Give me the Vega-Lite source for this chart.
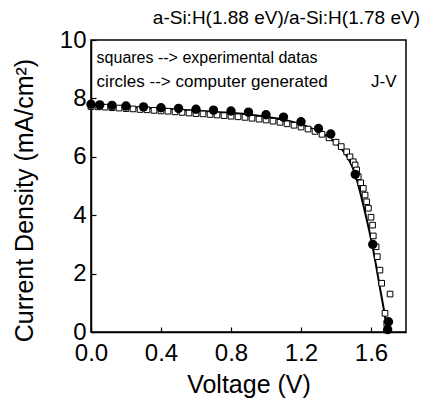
{
  "$schema": "https://vega.github.io/schema/vega-lite/v6.json",
  "autosize": {"type": "none"},
  "padding": {"left": 91, "top": 40, "right": 29, "bottom": 68},
  "width": 315,
  "height": 292,
  "background": "white",
  "config": {
    "font": "Liberation Sans",
    "view": {"stroke": "black", "strokeWidth": 1.5},
    "axis": {"grid": false, "domainColor": "black", "domainWidth": 1.5, "tickColor": "black", "tickWidth": 1.2, "labelColor": "black", "titleColor": "black", "labelFont": "Liberation Sans", "titleFont": "Liberation Sans", "titleFontWeight": "normal"}
  },
  "title": {"text": "a-Si:H(1.88 eV)/a-Si:H(1.78 eV)", "anchor": "end", "dx": 14, "offset": 0, "fontSize": 19, "fontWeight": "normal", "font": "Liberation Sans", "color": "black"},
  "datasets": {
    "fit": [
      {"V": 0.0, "J": 7.77}, {"V": 0.2, "J": 7.71}, {"V": 0.4, "J": 7.65}, {"V": 0.6, "J": 7.58},
      {"V": 0.8, "J": 7.5}, {"V": 0.9, "J": 7.45}, {"V": 1.0, "J": 7.37}, {"V": 1.1, "J": 7.27},
      {"V": 1.2, "J": 7.11}, {"V": 1.3, "J": 6.87}, {"V": 1.37, "J": 6.62}, {"V": 1.42, "J": 6.35},
      {"V": 1.47, "J": 5.95}, {"V": 1.51, "J": 5.4}, {"V": 1.56, "J": 4.25}, {"V": 1.61, "J": 2.9},
      {"V": 1.65, "J": 1.55}, {"V": 1.69, "J": 0.1}, {"V": 1.692, "J": 0.0}
    ],
    "sim": [
      {"V": 0.0, "J": 7.8}, {"V": 0.05, "J": 7.78}, {"V": 0.12, "J": 7.76}, {"V": 0.2, "J": 7.74},
      {"V": 0.3, "J": 7.71}, {"V": 0.4, "J": 7.68}, {"V": 0.5, "J": 7.66}, {"V": 0.6, "J": 7.63},
      {"V": 0.7, "J": 7.6}, {"V": 0.8, "J": 7.57}, {"V": 0.9, "J": 7.53}, {"V": 1.0, "J": 7.44},
      {"V": 1.1, "J": 7.36}, {"V": 1.2, "J": 7.2}, {"V": 1.3, "J": 6.97}, {"V": 1.37, "J": 6.78},
      {"V": 1.51, "J": 5.4}, {"V": 1.61, "J": 3.0}, {"V": 1.7, "J": 0.35}, {"V": 1.695, "J": 0.08}
    ],
    "exp": [
      {"V": 0.0, "J": 7.72}, {"V": 0.04, "J": 7.71}, {"V": 0.08, "J": 7.7}, {"V": 0.12, "J": 7.68},
      {"V": 0.16, "J": 7.67}, {"V": 0.2, "J": 7.65}, {"V": 0.24, "J": 7.64}, {"V": 0.28, "J": 7.62},
      {"V": 0.32, "J": 7.61}, {"V": 0.36, "J": 7.59}, {"V": 0.4, "J": 7.57}, {"V": 0.44, "J": 7.56},
      {"V": 0.48, "J": 7.54}, {"V": 0.52, "J": 7.52}, {"V": 0.56, "J": 7.5}, {"V": 0.6, "J": 7.48},
      {"V": 0.64, "J": 7.47}, {"V": 0.68, "J": 7.45}, {"V": 0.72, "J": 7.43}, {"V": 0.76, "J": 7.41},
      {"V": 0.8, "J": 7.39}, {"V": 0.84, "J": 7.37}, {"V": 0.88, "J": 7.35}, {"V": 0.92, "J": 7.32},
      {"V": 0.96, "J": 7.29}, {"V": 1.0, "J": 7.26}, {"V": 1.04, "J": 7.22}, {"V": 1.08, "J": 7.18},
      {"V": 1.12, "J": 7.13}, {"V": 1.16, "J": 7.08}, {"V": 1.2, "J": 7.02}, {"V": 1.24, "J": 6.95},
      {"V": 1.28, "J": 6.87}, {"V": 1.32, "J": 6.77}, {"V": 1.36, "J": 6.65}, {"V": 1.4, "J": 6.5},
      {"V": 1.43, "J": 6.35}, {"V": 1.461, "J": 6.17}, {"V": 1.48, "J": 6.0}, {"V": 1.499, "J": 5.83},
      {"V": 1.509, "J": 5.72}, {"V": 1.518, "J": 5.55}, {"V": 1.527, "J": 5.32}, {"V": 1.541, "J": 5.11},
      {"V": 1.556, "J": 4.92}, {"V": 1.566, "J": 4.69}, {"V": 1.575, "J": 4.46}, {"V": 1.585, "J": 4.24},
      {"V": 1.6, "J": 3.93}, {"V": 1.609, "J": 3.66}, {"V": 1.613, "J": 3.29}, {"V": 1.629, "J": 2.92},
      {"V": 1.636, "J": 2.58}, {"V": 1.651, "J": 2.12}, {"V": 1.661, "J": 1.67}, {"V": 1.709, "J": 1.3},
      {"V": 1.68, "J": 0.64}, {"V": 1.69, "J": 0.3}
    ]
  },
  "layer": [
    {
      "data": {"name": "fit"},
      "mark": {"type": "line", "color": "black", "strokeWidth": 2, "interpolate": "monotone"},
      "encoding": {
        "x": {"field": "V", "type": "quantitative", "sort": null,
          "scale": {"domain": [0, 1.8], "nice": false, "zero": false},
          "axis": {"title": "Voltage (V)", "values": [0, 0.2, 0.4, 0.6, 0.8, 1.0, 1.2, 1.4, 1.6, 1.8],
            "labelExpr": "indexof([0, 4, 8, 12, 16], round(datum.value * 10)) >= 0 ? format(datum.value, '.1f') : ''",
            "tickSize": -5, "labelPadding": 14, "labelFontSize": 24, "titleFontSize": 25, "titlePadding": 7,
            "labelFlush": false, "labelOverlap": false, "labelBound": false}},
        "y": {"field": "J", "type": "quantitative",
          "scale": {"domain": [0, 10], "nice": false},
          "axis": {"title": "Current Density (mA/cm²)", "values": [0, 1, 2, 3, 4, 5, 6, 7, 8, 9, 10],
            "labelExpr": "round(datum.value) % 2 == 0 ? format(datum.value, 'd') : ''",
            "tickSize": -5, "labelPadding": 10, "labelFontSize": 24, "titleFontSize": 25, "titlePadding": 22, "titleY": 160,
            "labelFlush": false, "labelOverlap": false, "labelBound": false}}
      }
    },
    {
      "data": {"name": "exp"},
      "mark": {"type": "point", "shape": "square", "filled": true, "fill": "white", "stroke": "black", "strokeWidth": 1, "size": 32, "opacity": 1},
      "encoding": {
        "x": {"field": "V", "type": "quantitative"},
        "y": {"field": "J", "type": "quantitative"}
      }
    },
    {
      "data": {"name": "sim"},
      "mark": {"type": "point", "shape": "circle", "filled": true, "color": "black", "size": 88, "opacity": 1},
      "encoding": {
        "x": {"field": "V", "type": "quantitative"},
        "y": {"field": "J", "type": "quantitative"}
      }
    },
    {
      "data": {"values": [{}]},
      "mark": {"type": "text", "text": "squares --> experimental datas", "align": "left", "baseline": "alphabetic", "fontSize": 16, "font": "Liberation Sans", "color": "black"},
      "encoding": {"x": {"datum": 0.032}, "y": {"datum": 9.21}}
    },
    {
      "data": {"values": [{}]},
      "mark": {"type": "text", "text": "circles --> computer generated", "align": "left", "baseline": "alphabetic", "fontSize": 17, "font": "Liberation Sans", "color": "black"},
      "encoding": {"x": {"datum": 0.032}, "y": {"datum": 8.39}}
    },
    {
      "data": {"values": [{}]},
      "mark": {"type": "text", "text": "J-V", "align": "left", "baseline": "alphabetic", "fontSize": 17, "font": "Liberation Sans", "color": "black"},
      "encoding": {"x": {"datum": 1.6}, "y": {"datum": 8.39}}
    }
  ]
}
